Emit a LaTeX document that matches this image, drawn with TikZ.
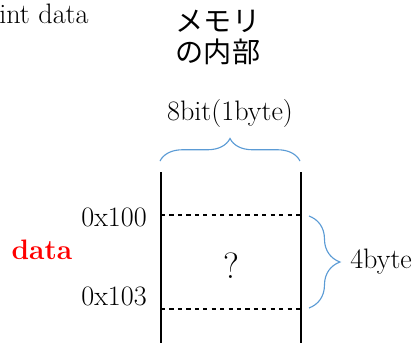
\documentclass[tikz,border=0pt]{standalone}
\usepackage{fontspec}
\usepackage{xcolor}
\usetikzlibrary{decorations.pathreplacing}
\newfontfamily\jpfont{Noto Sans CJK JP}
\definecolor{bracecol}{RGB}{91,155,213}

\begin{document}
\begin{tikzpicture}[x=0.025cm,y=-0.025cm,
  lbl/.style={font=\fontsize{20}{24}\selectfont,inner sep=0pt},
  memwall/.style={line width=1.4pt},
  cellsep/.style={dashed,line width=0.8pt},
  bracepath/.style={bracecol,line width=0.8pt,decorate}]
\useasboundingbox (0,0) rectangle (419,343);
\node[lbl,anchor=west] (title) at (-1,14) {int data};
\node[lbl,align=center] (mem) at (218,37) {\jpfont メモリ\\[-2pt]\jpfont の内部};
\node[lbl] (width) at (230,113) {8bit(1byte)};
% memory column
\coordinate (lt) at (161,172);
\coordinate (lb) at (161,343);
\coordinate (rt) at (301,172);
\coordinate (rb) at (301,343);
\draw[memwall] (lt)--(lb);
\draw[memwall] (rt)--(rb);
\coordinate (a1) at (161,215);
\coordinate (a2) at (301,215);
\coordinate (b1) at (161,309);
\coordinate (b2) at (301,309);
\draw[cellsep] (a1)--(a2);
\draw[cellsep] (b1)--(b2);
\node[lbl,anchor=east] (adr1) at (147,217) {0x100};
\node[lbl,anchor=east] (adr2) at (147,296) {0x103};
\node[lbl,red,font=\fontsize{20}{24}\selectfont\bfseries] (var) at (42,250) {data};
\node[lbl,font=\fontsize{26}{30}\selectfont] (val) at (231,266) {?};
% braces
\coordinate (bl) at (160,161);
\coordinate (br) at (300,161);
\draw[bracepath,decoration={brace,amplitude=16pt}] (bl)--(br);
\coordinate (ct) at (309,216);
\coordinate (cb) at (309,308);
\draw[bracepath,decoration={brace,amplitude=22pt}] (ct)--(cb);
\node[lbl,anchor=west] (size) at (350,262) {4byte};
\end{tikzpicture}
\end{document}
